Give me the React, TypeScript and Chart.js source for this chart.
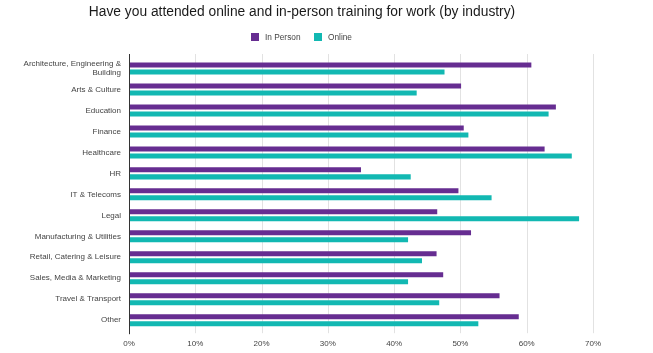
import React, { useEffect, useRef } from "react";
import { Chart, registerables } from "chart.js";

Chart.register(...registerables);

const TITLE = "Have you attended online and in-person training for work (by industry)";
const categories: (string | string[])[] = [
  ["Architecture, Engineering &", "Building"],
  "Arts & Culture",
  "Education",
  "Finance",
  "Healthcare",
  "HR",
  "IT & Telecoms",
  "Legal",
  "Manufacturing & Utilities",
  "Retail, Catering & Leisure",
  "Sales, Media & Marketing",
  "Travel & Transport",
  "Other",
];
const seriesNames = ["In Person", "Online"];
const inPerson = [60.7, 50.1, 64.4, 50.5, 62.7, 35.0, 49.7, 46.5, 51.6, 46.4, 47.4, 55.9, 58.8];
const online = [47.6, 43.4, 63.3, 51.2, 66.8, 42.5, 54.7, 67.9, 42.1, 44.2, 42.1, 46.8, 52.7];
const xTickStep = 10;
const xMax = 70;

const PURPLE = "#662D91";
const TEAL = "#12B8B2";
const GRID = "#e2e2e2";
const FONT = "'Liberation Sans', Arial, sans-serif";

const deco = {
  id: "deco",
  beforeDatasetsDraw(chart: any) {
    const ctx = chart.ctx;
    const x = chart.scales.x;
    const top = chart.chartArea.top - 4;
    const bottom = chart.chartArea.bottom + 2.5;
    ctx.save();
    ctx.lineWidth = 1;
    ctx.strokeStyle = GRID;
    for (const t of x.ticks) {
      if (t.value === 0) continue;
      const px = Math.round(x.getPixelForValue(t.value)) + 0.5;
      ctx.beginPath();
      ctx.moveTo(px, top);
      ctx.lineTo(px, bottom);
      ctx.stroke();
    }
    ctx.restore();
  },
  afterDatasetsDraw(chart: any) {
    const ctx = chart.ctx;
    const x = chart.scales.x;
    const px = Math.round(x.getPixelForValue(0)) + 0.5;
    ctx.save();
    ctx.lineWidth = 1;
    ctx.strokeStyle = "#333333";
    ctx.beginPath();
    ctx.moveTo(px, chart.chartArea.top - 4);
    ctx.lineTo(px, chart.chartArea.bottom + 3.5);
    ctx.stroke();
    ctx.restore();
  },
  afterDraw(chart: any) {
    const ctx = chart.ctx;
    ctx.save();
    // title
    ctx.fillStyle = "#1a1a1a";
    ctx.font = `13.8px ${FONT}`;
    ctx.textAlign = "center";
    ctx.textBaseline = "alphabetic";
    ctx.fillText(TITLE, 302, 15.5);
    // legend
    ctx.font = `8.3px ${FONT}`;
    ctx.textAlign = "left";
    ctx.textBaseline = "middle";
    const items = chart.data.datasets.map((d: any) => ({ label: d.label, color: d.backgroundColor }));
    const starts = [251, 314];
    items.forEach((it: any, i: number) => {
      const sx = starts[i];
      ctx.fillStyle = it.color;
      ctx.fillRect(sx, 33, 8, 8);
      ctx.fillStyle = "#444444";
      ctx.fillText(it.label, sx + 14, 37.5);
    });
    ctx.restore();
  },
};

export default function App() {
  const ref = useRef<HTMLCanvasElement | null>(null);
  useEffect(() => {
    if (!ref.current) return;
    const chart = new Chart(ref.current, {
      type: "bar",
      data: {
        labels: categories as any,
        datasets: [
          { label: seriesNames[0], data: inPerson, backgroundColor: PURPLE, borderWidth: 0, categoryPercentage: 0.668, barPercentage: 0.714 },
          { label: seriesNames[1], data: online, backgroundColor: TEAL, borderWidth: 0, categoryPercentage: 0.668, barPercentage: 0.714 },
        ],
      },
      options: {
        indexAxis: "y",
        responsive: false,
        animation: false,
        devicePixelRatio: 1,
        layout: { padding: { top: 58, right: 60, bottom: 0, left: 0 } },
        plugins: { legend: { display: false }, title: { display: false }, tooltip: { enabled: false } },
        scales: {
          x: {
            min: 0,
            max: xMax,
            grid: { display: false, drawTicks: false },
            border: { display: false },
            ticks: {
              stepSize: xTickStep,
              padding: 8,
              color: "#444444",
              font: { family: FONT, size: 8 },
              callback: (v: any) => `${v}%`,
            },
            afterFit: (s: any) => {
              s.height = 22.3;
            },
          },
          y: {
            grid: { display: false, drawTicks: false },
            border: { display: false },
            ticks: {
              padding: 8,
              color: "#444444",
              font: { family: FONT, size: 8, lineHeight: 1.15 },
              autoSkip: false,
            },
            afterFit: (s: any) => {
              s.width = 129;
            },
          },
        },
      },
      plugins: [deco],
    });
    return () => chart.destroy();
  }, []);
  return (
    <div style={{ position: "fixed", left: 0, top: 0, width: 653, height: 353, background: "#fff" }}>
      <canvas ref={ref} width={653} height={353} style={{ display: "block" }} />
    </div>
  );
}
